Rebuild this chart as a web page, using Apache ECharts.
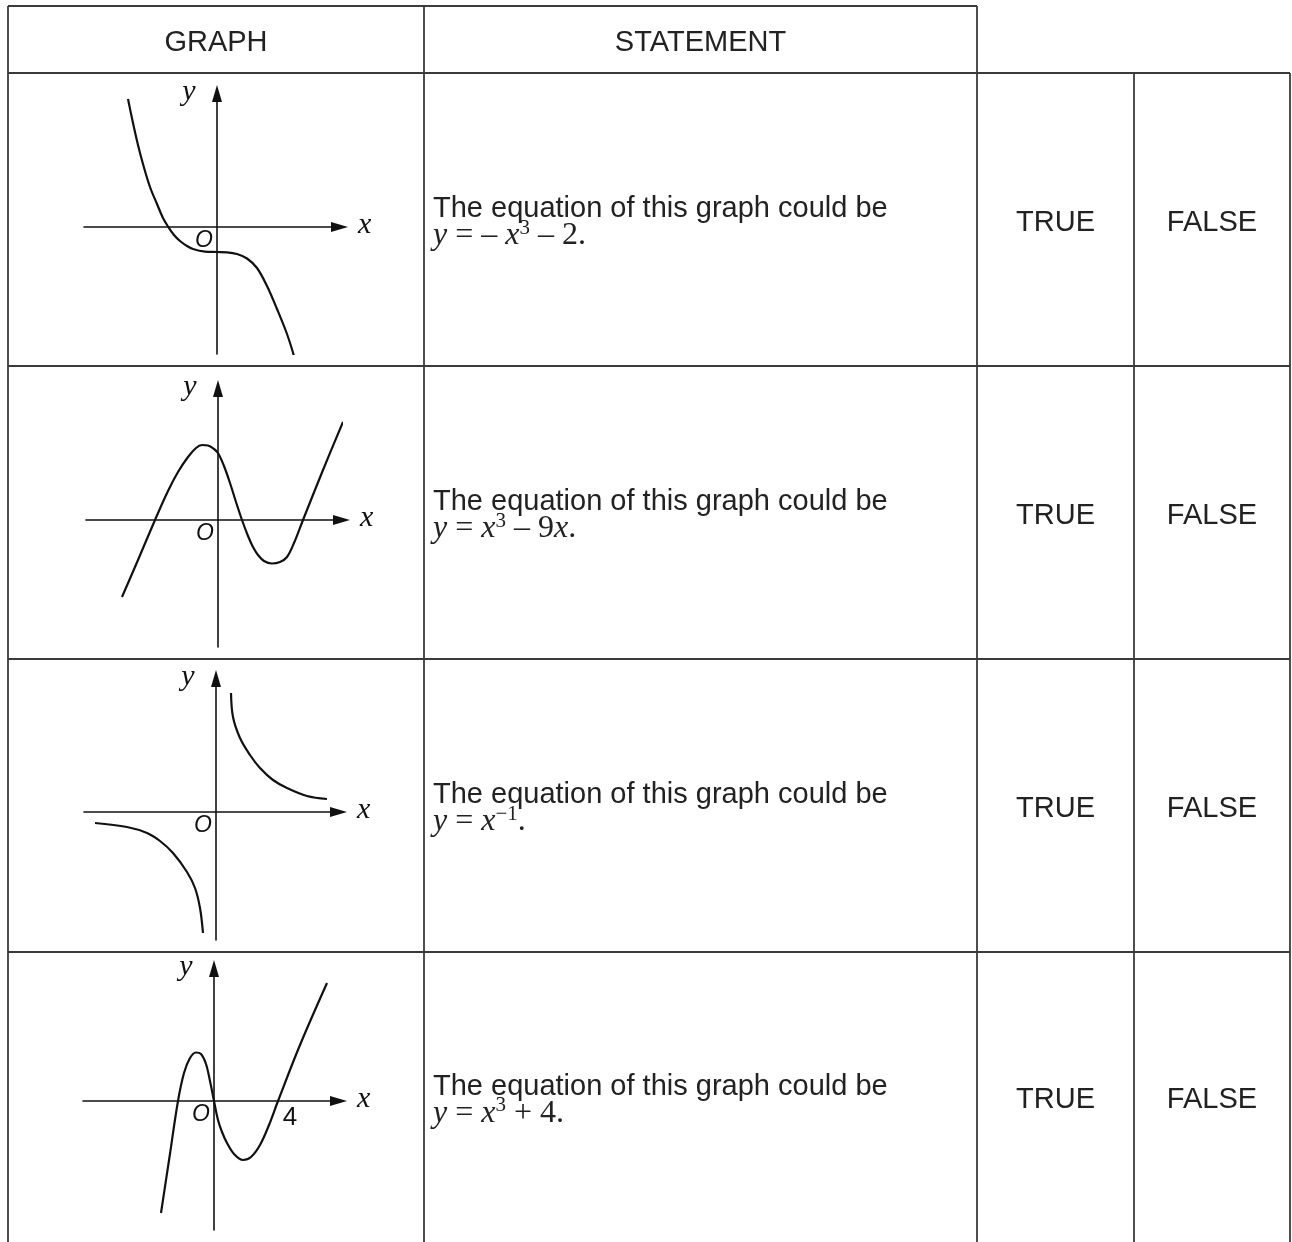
<!DOCTYPE html>
<html><head><meta charset="utf-8">
<script src="https://cdn.jsdelivr.net/npm/echarts@6/dist/echarts.min.js"></script>
<style>html,body{margin:0;padding:0;background:#fff}#c{width:1292px;height:1242px}</style>
</head><body><div id="c"></div>
<script>
// ---- data (units = 10 px from each graph's origin, y up) ----
const headers = ['GRAPH', 'STATEMENT'];
const choices = ['TRUE', 'FALSE'];
const statementLead = 'The equation of this graph could be';
const equations = [
  '{it|y}{m| = – }{it|x}{sup|3}{m| – 2.}',
  '{it|y}{m| = }{it|x}{sup|3}{m| – 9}{it|x}{m|.}',
  '{it|y}{m| = }{it|x}{sup|−1}{m|.}',
  '{it|y}{m| = }{it|x}{sup|3}{m| + 4.}'
];
const tickLabels4 = ['4'];
const curve1 = [[-8.9,12.8],[-8.4,10.4],[-7.9,8.2],[-7.4,6.3],[-6.7,4.0],[-6.0,2.3],[-5.4,0.9],[-4.9,0.05],[-4.3,-0.8],[-3.7,-1.4],[-3.0,-1.9],[-2.4,-2.2],[-1.2,-2.46],[0,-2.5],[1.0,-2.53],[2.0,-2.7],[3.0,-3.15],[4.0,-4.1],[5.0,-5.9],[6.0,-8.2],[7.0,-10.7],[7.7,-12.9]];
const curve2 = [[-9.6,-7.7],[-8.0,-4.0],[-6.3,0],[-5.0,2.9],[-4.0,4.8],[-3.0,6.3],[-2.2,7.2],[-1.6,7.5],[-1.0,7.45],[-0.4,7.1],[0,6.7],[0.6,5.4],[1.2,3.7],[1.8,1.8],[2.4,0],[3.0,-1.6],[3.5,-2.7],[4.0,-3.5],[4.6,-4.1],[5.4,-4.35],[6.2,-4.2],[6.9,-3.7],[7.6,-2.3],[8.5,0],[10.5,5.0],[12.5,9.8]];
const curve3Upper = [[1.5,11.9],[1.7,9.5],[2.4,7.4],[3.4,5.7],[4.4,4.4],[5.7,3.2],[7.1,2.4],[9.1,1.6],[11.1,1.3]];
const curve3Lower = [[-12.1,-1.1],[-8.9,-1.5],[-6.9,-2.1],[-5.6,-2.9],[-4.3,-4.1],[-2.9,-6.0],[-2.1,-7.6],[-1.6,-9.6],[-1.3,-12.1]];
const curve4 = [[-5.3,-11.2],[-4.45,-5.6],[-3.6,0],[-3.0,2.8],[-2.4,4.3],[-1.8,4.85],[-1.3,4.7],[-0.8,3.7],[-0.4,2.0],[0,0],[0.4,-1.9],[0.8,-3.1],[1.3,-4.2],[2.0,-5.3],[2.9,-5.9],[3.7,-5.6],[4.6,-4.4],[5.5,-2.4],[6.4,0],[8.6,5.6],[11.3,11.8]];
const graphCurves = [[curve1], [curve2], [curve3Upper, curve3Lower], [curve4]];

// ---- layout ----
const W = 1292, H = 1242;
const colX = [8, 424, 977, 1134, 1290];
const rowY = [6, 73, 366, 659, 952, H];
const lineColor = '#3a3a3a';
const sans = '"Liberation Sans", Arial, sans-serif';
const serif = '"Liberation Serif", "Times New Roman", serif';
const axesLayout = [
  {ox: 217, oy: 227, xl: 84, xt: 348, yt: 85, yb: 354},
  {ox: 218, oy: 520, xl: 86, xt: 350, yt: 380, yb: 647},
  {ox: 216, oy: 812, xl: 84, xt: 347, yt: 670, yb: 940},
  {ox: 214, oy: 1101, xl: 83, xt: 347, yt: 960, yb: 1230}
];
const ARROW_H = 17, ARROW_W = 10, UNIT = 10;

const grids = [], xAxes = [], yAxes = [], series = [], graphic = [];
axesLayout.forEach((g, i) => {
  const xEnd = g.xt - ARROW_H / 2, yEnd = g.yt + ARROW_H / 2;
  grids.push({left: g.xl, top: yEnd, width: xEnd - g.xl, height: g.yb - yEnd, containLabel: false});
  const axisCommon = {
    axisLine: {onZero: true, symbol: ['none', 'triangle'], symbolSize: [ARROW_W, ARROW_H], lineStyle: {color: '#111', width: 1.6}},
    axisTick: {show: false}, axisLabel: {show: false}, splitLine: {show: false}
  };
  xAxes.push(Object.assign({gridIndex: i, type: 'value', min: (g.xl - g.ox) / UNIT, max: (xEnd - g.ox) / UNIT}, axisCommon));
  yAxes.push(Object.assign({gridIndex: i, type: 'value', min: (g.oy - g.yb) / UNIT, max: (g.oy - yEnd) / UNIT}, axisCommon));
  graphCurves[i].forEach(c => series.push({
    type: 'line', xAxisIndex: i, yAxisIndex: i, data: c, smooth: 0.35, showSymbol: false,
    lineStyle: {color: '#111', width: 2.2}, silent: true, animation: false
  }));
  graphic.push({type: 'text', left: g.xt + 10, top: g.oy - 17, style: {text: 'x', font: 'italic 30px ' + serif, fill: '#111'}});
  graphic.push({type: 'text', x: g.ox - 28, y: g.yt + 7, style: {text: 'y', font: 'italic 30px ' + serif, fill: '#111', align: 'center', verticalAlign: 'middle'}});
  graphic.push({type: 'text', x: g.ox - 13, y: g.oy + 14, style: {text: 'O', font: 'italic 23px ' + sans, fill: '#111', align: 'center', verticalAlign: 'middle'}});
});
graphic.push({type: 'text', x: 290, y: 1118, style: {text: tickLabels4[0], font: '26px ' + sans, fill: '#111', align: 'center', verticalAlign: 'middle'}});

// table lines
const seg = (x1, y1, x2, y2) => graphic.push({type: 'line', shape: {x1, y1, x2, y2}, style: {stroke: lineColor, lineWidth: 1.8}, z: 10});
seg(colX[0], rowY[0], colX[2], rowY[0]);
seg(colX[0], rowY[1], colX[4], rowY[1]);
for (let r = 2; r < 5; r++) seg(colX[0], rowY[r], colX[4], rowY[r]);
seg(colX[0], rowY[0], colX[0], H);
seg(colX[1], rowY[0], colX[1], H);
seg(colX[2], rowY[0], colX[2], H);
seg(colX[3], rowY[1], colX[3], H);
seg(colX[4], rowY[1], colX[4], H);

// header
headers.forEach((t, i) => graphic.push({type: 'text', x: (colX[i] + colX[i + 1]) / 2, y: (rowY[0] + rowY[1]) / 2 + 3, style: {text: t, font: '29px ' + sans, fill: '#222', align: 'center', verticalAlign: 'middle'}}));

// rows
const rich = {
  s: {fontFamily: sans, fontSize: 29, lineHeight: 27, fill: '#222'},
  it: {fontFamily: serif, fontStyle: 'italic', fontSize: 32, lineHeight: 27, height: 27, verticalAlign: 'middle', fill: '#222'},
  m: {fontFamily: serif, fontSize: 32, lineHeight: 27, height: 27, verticalAlign: 'middle', fill: '#222'},
  sup: {fontFamily: serif, fontSize: 21, lineHeight: 27, height: 11, verticalAlign: 'top', fill: '#222'}
};
equations.forEach((eq, r) => {
  const cy = (rowY[r + 1] + rowY[r + 2]) / 2;
  graphic.push({type: 'text', x: 433, y: cy + 3, style: {text: '{s|' + statementLead + '}\n' + eq, rich, align: 'left', verticalAlign: 'middle'}});
  choices.forEach((c, k) => graphic.push({type: 'text', x: (colX[2 + k] + colX[3 + k]) / 2, y: cy + 3, style: {text: c, font: '29px ' + sans, fill: '#222', align: 'center', verticalAlign: 'middle'}}));
});

const chart = echarts.init(document.getElementById('c'), null, {renderer: 'canvas', width: W, height: H});
chart.setOption({
  animation: false, backgroundColor: '#fff',
  grid: grids, xAxis: xAxes, yAxis: yAxes, series, graphic
});
</script></body></html>
